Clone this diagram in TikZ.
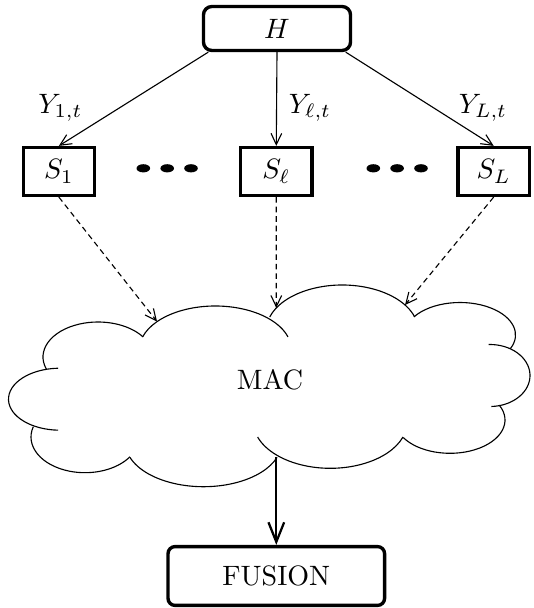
\documentclass[tikz,border=0pt]{standalone}
\usepackage{amsmath,amssymb}
\usepackage{tikz}
\usetikzlibrary{arrows.meta}

\begin{document}
\begin{tikzpicture}[x=0.357pt, y=-0.357pt, node distance=77.6pt,
		top node/.style={draw,very thick,rounded corners=3pt,minimum width=52.5pt,minimum height=15.7pt},
		sensor node/.style={draw,very thick,minimum width=25.4pt,minimum height=17.1pt},
		fusion node/.style={draw,very thick,rounded corners=2.5pt,minimum width=77.3pt,minimum height=21pt},
		link/.style={thin,-{Straight Barb[length=4pt,width=3.8pt]}},
		mac link/.style={link,dash pattern=on 2pt off 1.4pt},
		cloud line/.style={thin}]
		
		\useasboundingbox (0,0) rectangle (533,608);
		
		\node[top node] (H) at (277,28.5) {$H$};
		\node[sensor node] (S1) at (58.9,171.5) {$S_1$};
		\node[sensor node] (Sl) [right of=S1] {$S_\ell$};
		\node[sensor node] (SL) [right of=Sl] {$S_L$};
		
		% dots between the sensors
		\foreach \x in {143.3,167.2,191,373.3,397.1,421}
		\fill (\x,168.3) ellipse [x radius=6.8, y radius=4.1];
		
		\node (y1) at (60.4,108) {$Y_{1,t}$};
		\node (yl) at (310,108) {$Y_{\ell,t}$};
		\node (yL) at (483,108) {$Y_{L,t}$};
		
		\draw[link] (H.199) -- (S1.north);
		\draw[link] (H.south) -- (Sl.north);
		\draw[link] (H.-19) -- (SL.north);
		
		% the MAC cloud
		\foreach \cx/\cy/\rx/\ry/\sa/\ea in {98/357/55/35/160/325, 215.3/349.7/76/43.7/197/343,
			342.2/330.7/76/45.7/197.5/342.5, 460/335/55.5/32.5/214/385, 490/375.5/40/31/268/448,
			450/420/55/33.3/-26.5/148.2, 330.3/421.6/77/46.7/19.3/160.7, 203.5/442.7/78/44/19.4/160.6,
			85/437/54/35.7/196.7/33.6, 60/399.2/51.5/31/268/92}
		\draw[cloud line] ({\cx+\rx*cos(\sa)},{\cy+\ry*sin(\sa)}) arc [start angle=\sa, end angle=\ea, x radius=\rx, y radius=\ry];
		
		\node (mac) at (270,380) {MAC};
		\coordinate (m1) at (157,321.5);
		\coordinate (ml) at (276.3,308);
		\coordinate (mL) at (405,305);
		\coordinate (mo) at (276.3,457.3);
		
		\draw[mac link] (S1.south) -- (m1);
		\draw[mac link] (Sl.south) -- (ml);
		\draw[mac link] (SL.south) -- (mL);
		
		\node[fusion node] (F) at (276.3,576) {FUSION};
		\draw[thick,-{Straight Barb[length=7pt,width=5.6pt]}] (mo) -- (F.north);
\end{tikzpicture}
\end{document}
